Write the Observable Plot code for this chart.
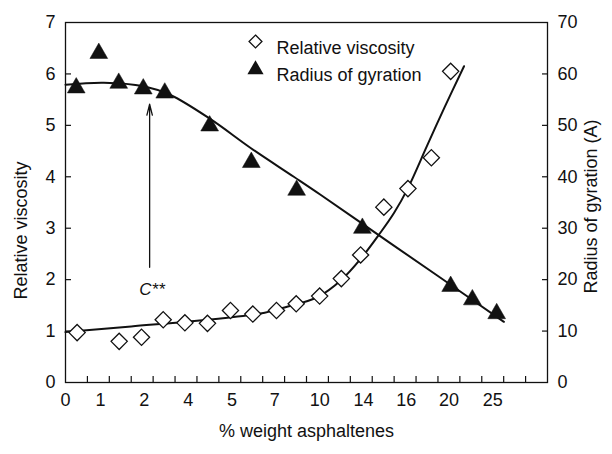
<!DOCTYPE html>
<html><head><meta charset="utf-8">
<script src="https://cdn.jsdelivr.net/npm/d3@7"></script>
<script src="https://cdn.jsdelivr.net/npm/@observablehq/plot@0.6"></script>
<style>
html,body{margin:0;padding:0;background:#fff;}
#chart svg{display:block;}
</style>
</head><body><div id="chart"></div>
<script>
// Relative viscosity (open diamonds), x in axis position units
const viscX = [0.53, 2.45, 3.47, 4.46, 5.45, 6.48, 7.53, 8.55, 9.63, 10.53, 11.6, 12.59, 13.47, 14.53, 15.63, 16.7, 17.58];
const viscY = [0.97, 0.80, 0.88, 1.22, 1.16, 1.15, 1.40, 1.33, 1.40, 1.53, 1.68, 2.02, 2.48, 3.41, 3.77, 4.37, 6.05];
// Radius of gyration (filled triangles), Å
const radX = [0.49, 1.52, 2.43, 3.55, 4.53, 6.58, 8.48, 10.55, 13.55, 17.58, 18.57, 19.68];
const radY = [57.3, 64.0, 58.2, 57.1, 56.3, 49.9, 42.8, 37.4, 30.0, 18.7, 16.1, 13.4];
// Fitted curves
const viscFitX = [0, 3, 6, 8.9, 10, 11.5, 12.6, 13.5, 14.3, 15, 15.63, 16.5, 17.3, 18.19];
const viscFitY = [0.98, 1.09, 1.2, 1.34, 1.46, 1.66, 2.0, 2.42, 2.87, 3.3, 3.78, 4.6, 5.35, 6.15];
const radFitX = [0, 1.75, 3.57, 4.79, 6.62, 8.45, 10.42, 11.64, 14.28, 17, 20.01];
const radFitY = [57.9, 58.3, 57.6, 55.9, 51.2, 45.6, 40.0, 36.5, 28.7, 20.7, 11.8];
// Axis ticks
const xTickLabels = ["0", "1", "2", "4", "5", "7", "10", "14", "16", "20", "25"];
const xTickPos = [0, 1.6, 3.6, 5.6, 7.6, 9.55, 11.6, 13.6, 15.55, 17.5, 19.5];
const xMinorTicks = d3.range(1, 22);
const yLeftTicks = [0, 1, 2, 3, 4, 5, 6, 7];
const yRightTicks = [0, 10, 20, 30, 40, 50, 60, 70];
const legendLabels = ["Relative viscosity", "Radius of gyration"];
const xTitle = "% weight asphaltenes";
const yLeftTitle = "Relative viscosity";
const yRightTitle = "Radius of gyration (A)";
// C** annotation
const annotX = [3.84];
const annotFrom = [2.24];
const annotTo = [5.41];
const annotLabel = ["C**"];
const annotLabelX = [3.95];
const annotLabelY = [1.80];

const visc = viscX.map((x, i) => ({x, y: viscY[i]}));
const rad = radX.map((x, i) => ({x, r: radY[i]}));
const viscFit = viscFitX.map((x, i) => ({x, y: viscFitY[i]}));
const radFit = radFitX.map((x, i) => ({x, r: radFitY[i]}));
const labelOf = new Map(xTickPos.map((p, i) => [p, xTickLabels[i]]));
const annot = annotX.map((x, i) => ({x, y1: annotFrom[i], y2: annotTo[i], tx: annotLabelX[i], ty: annotLabelY[i], label: annotLabel[i]}));
const ink = "#111";

const chart = Plot.plot({
  width: 612, height: 454,
  marginLeft: 65, marginRight: 65, marginTop: 22, marginBottom: 72,
  style: {fontFamily: "'Liberation Sans', Arial, sans-serif", fontSize: "18px", color: ink, background: "#fff"},
  x: {domain: [0, 22], label: null},
  y: {domain: [0, 7], label: null},
  marks: [
    Plot.frame({stroke: ink, strokeWidth: 1.3}),
    Plot.axisX({ticks: xMinorTicks, tickSize: -6, tickFormat: () => "", label: null, strokeWidth: 1.2}),
    Plot.axisX({ticks: xTickPos, tickSize: 0, tickPadding: 11, tickFormat: d => labelOf.get(d), label: null, fontSize: 18}),
    Plot.axisY({ticks: [1, 2, 3, 4, 5, 6], anchor: "left", tickSize: -6, tickFormat: () => "", label: null, strokeWidth: 1.2}),
    Plot.axisY({ticks: [1, 2, 3, 4, 5, 6], anchor: "right", tickSize: -6, tickFormat: () => "", label: null, strokeWidth: 1.2}),
    Plot.axisY({ticks: yLeftTicks, anchor: "left", tickSize: 0, tickPadding: 10, tickFormat: d => String(d), label: null, fontSize: 18}),
    Plot.axisY({ticks: yRightTicks.map(d => d / 10), anchor: "right", tickSize: 0, tickPadding: 10, tickFormat: d => String(Math.round(d * 10)), label: null, fontSize: 18}),
    Plot.text([xTitle], {frameAnchor: "bottom", dy: 54, text: d => d, fontSize: 18}),
    Plot.text([yLeftTitle], {frameAnchor: "left", dx: -44, dy: 28, rotate: -90, textAnchor: "middle", text: d => d, fontSize: 18}),
    Plot.text([yRightTitle], {frameAnchor: "right", dx: 44, dy: 4, rotate: -90, textAnchor: "middle", text: d => d, fontSize: 18}),
    // fitted curves
    Plot.line(viscFit, {x: "x", y: "y", curve: "catmull-rom", stroke: ink, strokeWidth: 2}),
    Plot.line(radFit, {x: "x", y: d => d.r / 10, curve: "catmull-rom", stroke: ink, strokeWidth: 2}),
    // data points
    Plot.dot(visc, {x: "x", y: "y", symbol: "diamond2", r: 7.3, stroke: ink, fill: "white", strokeWidth: 1.3}),
    Plot.dot(rad, {x: "x", y: d => d.r / 10, symbol: "triangle", r: 6.6, fill: ink, stroke: ink, strokeWidth: 0.5}),
    // annotation
    Plot.arrow(annot, {x1: "x", y1: "y1", x2: "x", y2: "y2", stroke: ink, strokeWidth: 1.3, headLength: 13, headAngle: 28}),
    Plot.text(annot, {x: "tx", y: "ty", text: "label", fontStyle: "italic", fontSize: 17}),
    // legend
    Plot.dot([legendLabels[0]], {frameAnchor: "top-left", dx: 190, dy: 19, symbol: "diamond2", r: 5.8, stroke: ink, fill: "white", strokeWidth: 1.3}),
    Plot.dot([legendLabels[1]], {frameAnchor: "top-left", dx: 190, dy: 47, symbol: "triangle", r: 6, fill: ink}),
    Plot.text([legendLabels[0]], {frameAnchor: "top-left", dx: 211, dy: 19, text: d => d, textAnchor: "start", fontSize: 18}),
    Plot.text([legendLabels[1]], {frameAnchor: "top-left", dx: 211, dy: 46, text: d => d, textAnchor: "start", fontSize: 18})
  ]
});
document.getElementById("chart").appendChild(chart);
</script>
</body></html>
